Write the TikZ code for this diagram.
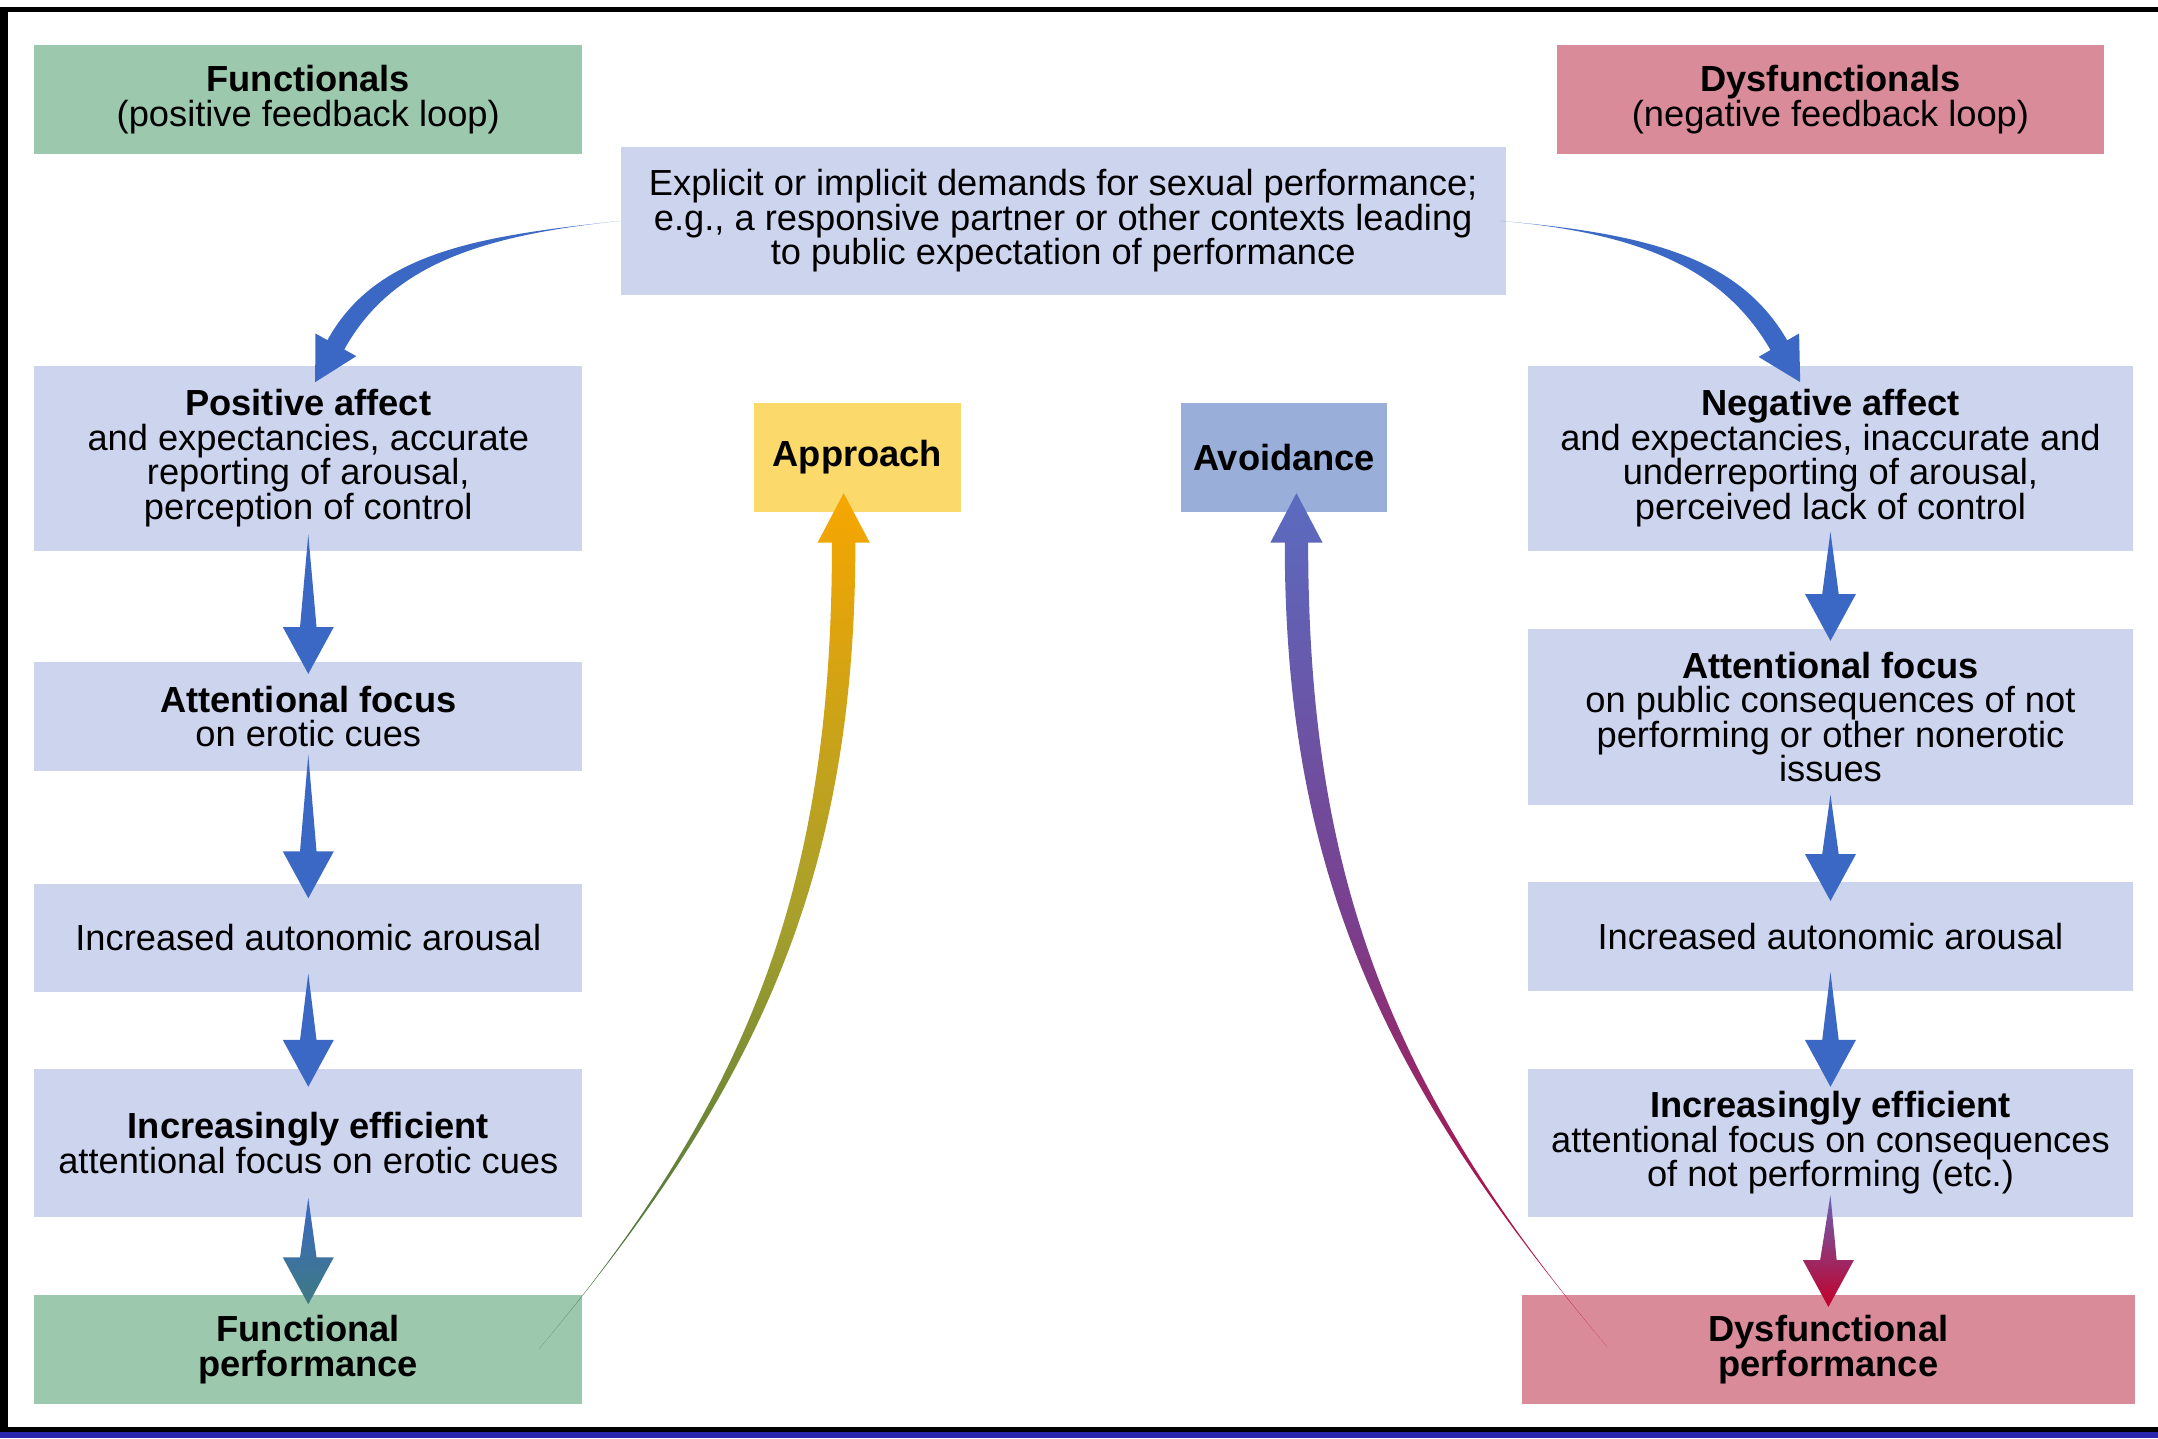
\documentclass[tikz,border=0pt]{standalone}
\usepackage{fontspec}
\setmainfont{Liberation Sans}
\usetikzlibrary{calc}

\definecolor{funcgreen}{HTML}{9CC8AE}
\definecolor{dysred}{HTML}{D98B9A}
\definecolor{stepblue}{HTML}{CDD4EE}
\definecolor{apyellow}{HTML}{FBD96A}
\definecolor{avblue}{HTML}{9AAEDA}
\definecolor{flowblue}{HTML}{3B68C4}
\definecolor{tealend}{HTML}{3E7A82}
\definecolor{crimson}{HTML}{C2002B}
\definecolor{violet}{HTML}{6A62B4}
\definecolor{apgreen}{HTML}{2F6A44}
\definecolor{apolive}{HTML}{A6A02C}
\definecolor{aporange}{HTML}{F7A600}
\definecolor{avpurple}{HTML}{7A3F8E}
\definecolor{avtop}{HTML}{5A6CC0}
\definecolor{barblue}{HTML}{2A26B0}

% looseness at the tail / at the head of a tapered arrow
\def\tpa{1}
\def\tpb{1}
% tapered arrow: style, tail, tip, out angle, heading at tip,
% shaft half width, head half width, head length
\newcommand{\taper}[8]{%
  \pgfmathsetmacro\tpback{#5+180}%
  \pgfmathsetmacro\tpleft{#5+90}%
  \pgfmathsetmacro\tpright{#5-90}%
  \path[#1] (#2) to[out=#4, in=\tpback, out looseness=\tpa, in looseness=\tpb]
      ($(#3)+(\tpback:#8)+(\tpleft:#6)$)
    -- ($(#3)+(\tpback:#8)+(\tpleft:#7)$) -- (#3)
    -- ($(#3)+(\tpback:#8)+(\tpright:#7)$)
    -- ($(#3)+(\tpback:#8)+(\tpright:#6)$)
      to[out=\tpback, in=#4, out looseness=\tpb, in looseness=\tpa] (#2) -- cycle;
}
% straight step arrow between two boxes of a column
\newcommand{\vflow}[5]{%
  \coordinate (vs) at ($(#2.south)+(0,#4)$);
  \coordinate (vt) at ($(#3.north)+(0,-#5)$);
  \def\tpa{0}\def\tpb{0}%
  \taper{#1}{vs}{vt}{-90}{-90}{6}{18.5}{34}
  \def\tpa{1}\def\tpb{1}%
}

\begin{document}
\begin{tikzpicture}[x=0.02cm, y=0.02cm, font=\fontsize{15}{14.3}\selectfont,
  box/.style={inner sep=0pt, align=center, text=black},
  sz/.style 2 args={minimum width=#1*0.02cm, minimum height=#2*0.02cm}]
\useasboundingbox (0,0) rectangle (1568,-1045);

% frame
\fill[black] (0,-5) rectangle (1568,-8.5);
\fill[black] (0,-5) rectangle (5.5,-1040);
\fill[black] (0,-1037) rectangle (1568,-1040.5);
\fill[barblue] (0,-1040.5) rectangle (1568,-1045);

% headers and trigger
\node[box, fill=funcgreen, sz={398}{79}] (fhead) at (224,-72.5)
  {\textbf{Functionals}\\(positive feedback loop)};
\node[box, fill=dysred, sz={398}{79}] (dhead) at (1330,-72.5)
  {\textbf{Dysfunctionals}\\(negative feedback loop)};
\node[box, fill=stepblue, sz={643}{107}] (dem) at (772.5,-160.5)
  {Explicit or implicit demands for sexual performance;\\
   e.g., a responsive partner or other contexts leading\\
   to public expectation of performance};

% functional column
\node[box, fill=stepblue, sz={398}{134}] (pa) at (224,-333)
  {\textbf{Positive affect}\\and expectancies, accurate\\reporting of arousal,\\perception of control};
\node[box, fill=stepblue, sz={398}{79}] (paf) at (224,-520.5)
  {\textbf{Attentional focus}\\on erotic cues};
\node[box, fill=stepblue, sz={398}{79}] (pia) at (224,-681.5)
  {Increased autonomic arousal};
\node[box, fill=stepblue, sz={398}{107}] (pie) at (224,-830.5)
  {\textbf{Increasingly efficient}\\attentional focus on erotic cues};
\node[box, fill=funcgreen, sz={398}{79}] (fp) at (224,-980.5)
  {\textbf{Functional}\\\textbf{performance}};

% middle
\node[box, fill=apyellow, sz={150}{79}] (appr) at (623,-332.5) {\textbf{Approach}};
\node[box, fill=avblue, sz={150}{79}] (avoid) at (933,-332.5) {\textbf{Avoidance}};

% dysfunctional column
\node[box, fill=stepblue, sz={440}{134}] (na) at (1330,-333)
  {\textbf{Negative affect}\\and expectancies, inaccurate and\\underreporting of arousal,\\perceived lack of control};
\node[box, fill=stepblue, sz={440}{128}] (naf) at (1330,-521)
  {\textbf{Attentional focus}\\on public consequences of not\\performing or other nonerotic\\issues};
\node[box, fill=stepblue, sz={440}{79}] (nia) at (1330,-680.5)
  {Increased autonomic arousal};
\node[box, fill=stepblue, sz={440}{107}] (nie) at (1330,-830.5)
  {\textbf{Increasingly efficient}\\attentional focus on consequences\\of not performing (etc.)};
\node[box, fill=dysred, sz={445}{79}] (dp) at (1328.5,-980.5)
  {\textbf{Dysfunctional}\\\textbf{performance}};

% column steps
\vflow{fill=flowblue}{pa}{paf}{12}{9}
\vflow{fill=flowblue}{paf}{pia}{12}{11}
\vflow{fill=flowblue}{pia}{pie}{14}{13}
\vflow{top color=flowblue, bottom color=tealend}{pie}{fp}{14}{7}
\vflow{fill=flowblue}{na}{naf}{14}{9}
\vflow{fill=flowblue}{naf}{nia}{8}{14}
\vflow{fill=flowblue}{nia}{nie}{14}{13}
\vflow{top color=violet, bottom color=crimson}{nie}{dp}{16}{9}

% from the demands to both loops
\coordinate (c1s) at (dem.west);
\coordinate (c1t) at ($(pa.north)+(5,-12)$);
\coordinate (c2s) at ($(dem.east)+(-4,0)$);
\coordinate (c2t) at ($(na.north)+(-22,-12)$);
\def\tpa{1.2}\def\tpb{0.8}
\taper{fill=flowblue}{c1s}{c1t}{186}{241}{7}{17}{31}
\taper{fill=flowblue}{c2s}{c2t}{-5}{-60}{7}{17}{31}
\def\tpa{1}\def\tpb{1}

% performance feeds back
\coordinate (c3s) at ($(fp.east)+(-32,0)$);
\coordinate (c3t) at ($(appr.south)+(-10,14)$);
\coordinate (c4s) at ($(dp.west)+(62,2)$);
\coordinate (c4t) at ($(avoid.south)+(9,14)$);
\taper{bottom color=apgreen, top color=aporange, middle color=apolive}{c3s}{c3t}{50}{90}{8.5}{19}{36}
\taper{bottom color=crimson, top color=avtop, middle color=avpurple}{c4s}{c4t}{130}{90}{8.5}{19}{36}
\end{tikzpicture}
\end{document}
